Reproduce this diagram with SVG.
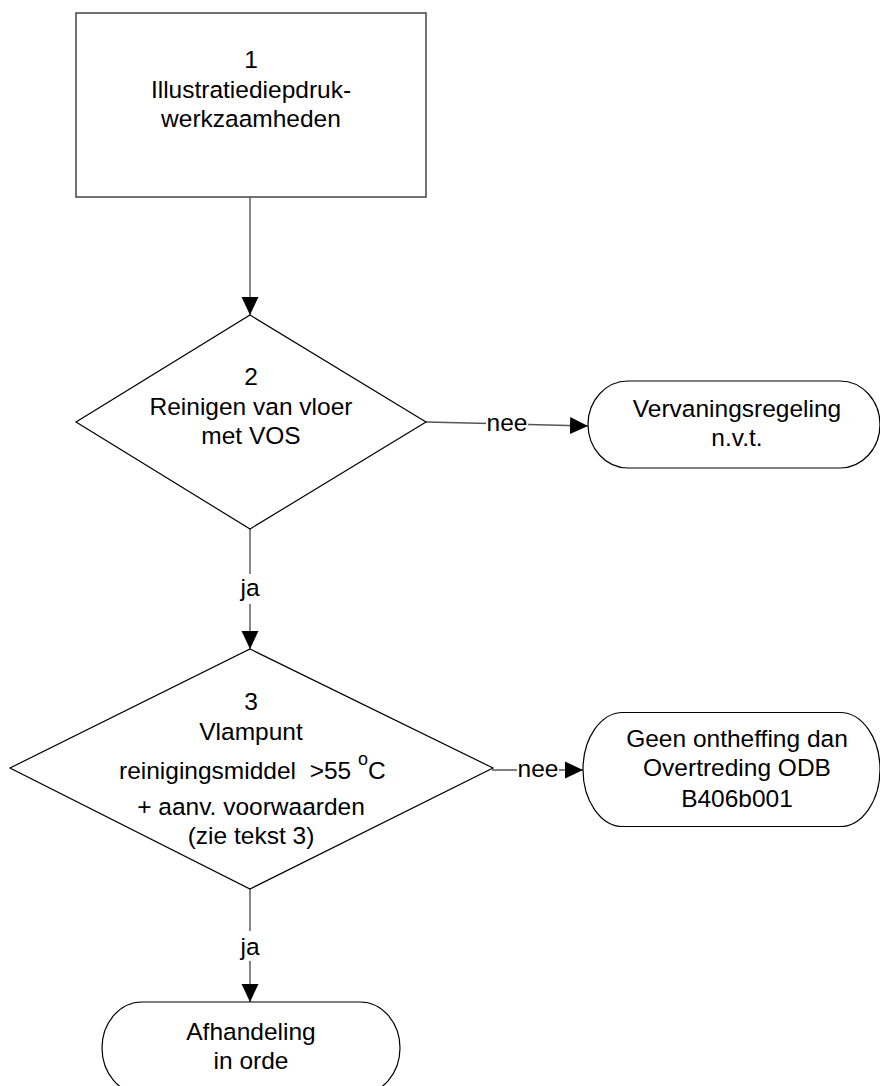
<svg xmlns="http://www.w3.org/2000/svg" width="880" height="1086" viewBox="0 0 880 1086">
<style>
text{font-family:"Liberation Sans",Arial,sans-serif;font-size:24.5px;fill:#000;text-anchor:middle}
.shape{fill:#fff;stroke:#000;stroke-width:1.2}
.box{fill:#fff;stroke:#444;stroke-width:1.5}
.conn{fill:none;stroke:#555;stroke-width:1.4}
.lbl{fill:#fff;stroke:none}
</style>
<defs>
<marker id="arr" markerUnits="userSpaceOnUse" markerWidth="18" markerHeight="18" viewBox="0 0 17 16" refX="17" refY="8" orient="auto">
<path d="M0,0 L17,8 L0,16 Z" fill="#000"/>
</marker>
</defs>
<g id="connectors">
<path class="conn" d="M250,197 L250,315" marker-end="url(#arr)"/>
<path class="conn" d="M250,529 L250,649" marker-end="url(#arr)"/>
<rect class="lbl" x="238" y="574" width="24" height="30"/>
<text x="250" y="596">ja</text>
<path class="conn" d="M426,422 L588,426" marker-end="url(#arr)"/>
<rect class="lbl" x="486" y="410" width="42" height="26"/>
<text x="507" y="431">nee</text>
<path class="conn" d="M492,770 L583,770" marker-end="url(#arr)"/>
<rect class="lbl" x="517" y="758" width="42" height="24"/>
<text x="538" y="777">nee</text>
<path class="conn" d="M250,889 L250,1002" marker-end="url(#arr)"/>
<rect class="lbl" x="238" y="931" width="24" height="30"/>
<text x="250" y="955">ja</text>
</g>
<g id="node1">
<rect class="box" x="76" y="13" width="350" height="184"/>
<text x="251" y="68">1</text>
<text x="251" y="98">Illustratiediepdruk-</text>
<text x="251" y="127">werkzaamheden</text>
</g>
<g id="node2">
<polygon class="shape" points="250,315 426,422 250,529 76,422"/>
<text x="251" y="385">2</text>
<text x="251" y="415">Reinigen van vloer</text>
<text x="251" y="444">met VOS</text>
</g>
<g id="node3">
<polygon class="shape" points="250,649 493,768 250,889 10,768"/>
<text x="251" y="710">3</text>
<text x="251" y="740">Vlampunt</text>
<text x="119" y="779" style="text-anchor:start" xml:space="preserve">reinigingsmiddel  &gt;55 <tspan font-size="18" dy="-14">o</tspan><tspan dy="14">C</tspan></text>
<text x="251" y="815">+ aanv. voorwaarden</text>
<text x="251" y="844">(zie tekst 3)</text>
</g>
<g id="node4">
<rect class="shape" x="588" y="381" width="292" height="87" rx="40" ry="43.5"/>
<text x="737" y="417">Vervaningsregeling</text>
<text x="737" y="446">n.v.t.</text>
</g>
<g id="node5">
<rect class="shape" x="583" y="712.5" width="297" height="114" rx="40" ry="57"/>
<text x="737" y="747">Geen ontheffing dan</text>
<text x="737" y="776">Overtreding ODB</text>
<text x="737" y="807">B406b001</text>
</g>
<g id="node6">
<rect class="shape" x="102" y="1002" width="298" height="92" rx="40" ry="46"/>
<text x="251" y="1040">Afhandeling</text>
<text x="251" y="1069">in orde</text>
</g>
</svg>
